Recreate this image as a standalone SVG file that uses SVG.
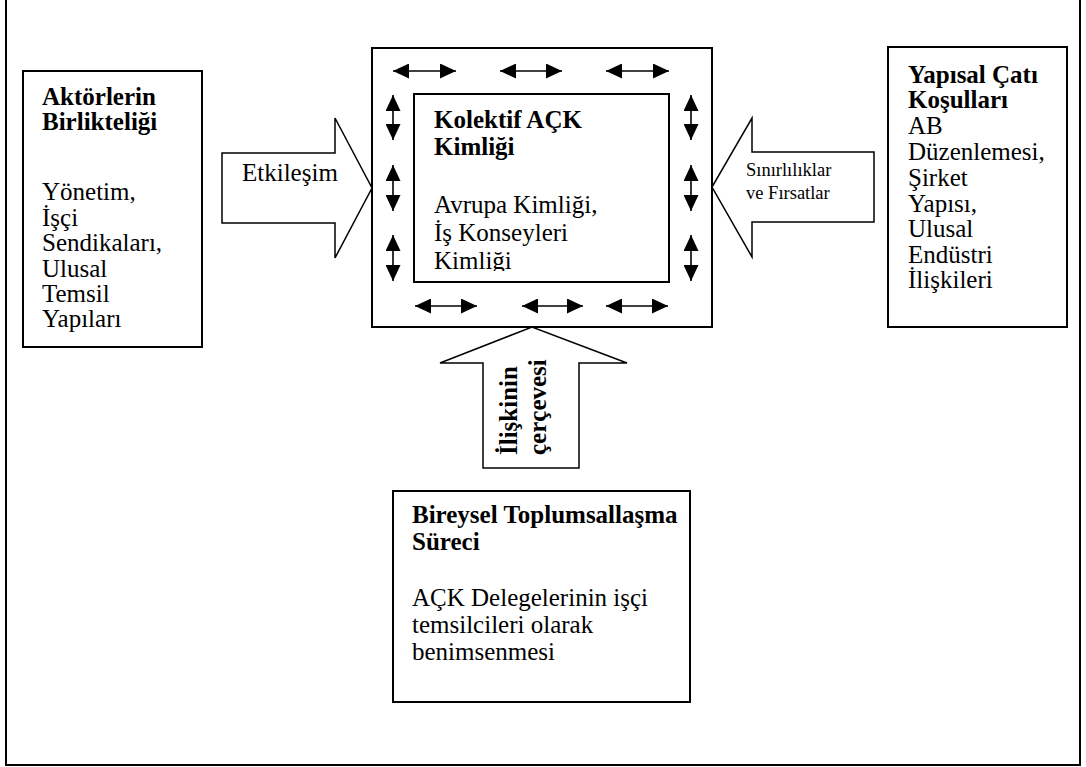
<svg xmlns="http://www.w3.org/2000/svg" width="1086" height="767" viewBox="0 0 1086 767">
  <style>
    .box { fill: #fff; stroke: #000; stroke-width: 2; }
    .blk { fill: #fff; stroke: #000; stroke-width: 1.5; stroke-linejoin: miter; }
    .t { font-family: "Liberation Serif", "Times New Roman", serif; font-size: 25px; fill: #000; }
    .b { font-weight: bold; }
    .s { font-size: 18.5px; }
    .dbl { stroke: #000; stroke-width: 1.6; marker-start: url(#ah); marker-end: url(#ah); }
  </style>
  <defs>
    <marker id="ah" viewBox="0 0 16 15" refX="16" refY="7.5" markerWidth="16" markerHeight="15" markerUnits="userSpaceOnUse" orient="auto-start-reverse">
      <path d="M0,0 L16,7.5 L0,15 Z" fill="#000"/>
    </marker>
    <clipPath id="innerClip"><rect x="414" y="94" width="255" height="177"/></clipPath>
  </defs>
  <rect width="1086" height="767" fill="#fff"/>
  <path d="M6,0 V765 H1080 V0" fill="none" stroke="#000" stroke-width="2"/>

  <g id="node-aktorler">
    <rect class="box" x="23" y="71" width="179" height="276"/>
    <text class="t b" x="42" y="105">Aktörlerin</text>
    <text class="t b" x="42" y="130">Birlikteliği</text>
    <text class="t" x="42" y="200">Yönetim,</text>
    <text class="t" x="42" y="225.5">İşçi</text>
    <text class="t" x="42" y="251">Sendikaları,</text>
    <text class="t" x="42" y="276.5">Ulusal</text>
    <text class="t" x="42" y="302">Temsil</text>
    <text class="t" x="42" y="327">Yapıları</text>
  </g>

  <g id="node-outer">
    <rect class="box" x="372" y="48" width="340" height="279"/>
  </g>

  <g id="node-kolektif">
    <rect class="box" x="414" y="94" width="255" height="188"/>
    <g clip-path="url(#innerClip)">
      <text class="t b" x="434" y="128">Kolektif AÇK</text>
      <text class="t b" x="434" y="155">Kimliği</text>
      <text class="t" x="434" y="213">Avrupa Kimliği,</text>
      <text class="t" x="434" y="241">İş Konseyleri</text>
      <text class="t" x="434" y="269">Kimliği</text>
    </g>
  </g>

  <g id="node-yapisal">
    <rect class="box" x="888" y="47" width="179" height="280"/>
    <text class="t b" x="908" y="83">Yapısal Çatı</text>
    <text class="t b" x="908" y="108">Koşulları</text>
    <text class="t" x="908" y="134">AB</text>
    <text class="t" x="908" y="160">Düzenlemesi,</text>
    <text class="t" x="908" y="186">Şirket</text>
    <text class="t" x="908" y="212">Yapısı,</text>
    <text class="t" x="908" y="237">Ulusal</text>
    <text class="t" x="908" y="263">Endüstri</text>
    <text class="t" x="908" y="288">İlişkileri</text>
  </g>

  <g id="node-bireysel">
    <rect class="box" x="393" y="491" width="297" height="211"/>
    <text class="t b" x="412" y="523">Bireysel Toplumsallaşma</text>
    <text class="t b" x="412" y="550">Süreci</text>
    <text class="t" x="412" y="606">AÇK Delegelerinin işçi</text>
    <text class="t" x="412" y="633">temsilcileri olarak</text>
    <text class="t" x="412" y="660">benimsenmesi</text>
  </g>

  <g id="connectors">
    <path class="blk" d="M222,153 H335 V118 L372,188 L335,258 V223 H222 Z"/>
    <text class="t" x="242" y="181">Etkileşim</text>

    <path class="blk" d="M874,152 H752 V118 L712,187 L752,257 V222 H874 Z"/>
    <text class="t s" x="746" y="176">Sınırlılıklar</text>
    <text class="t s" x="746" y="199">ve Fırsatlar</text>

    <path class="blk" d="M483,468 V363 H440 L532,327 L627,363 H579 V468 Z"/>
    <text class="t b" transform="translate(517,455) rotate(-90)">İlişkinin</text>
    <text class="t b" transform="translate(546,455) rotate(-90)">çerçevesi</text>

    <line class="dbl" x1="393" y1="71" x2="456" y2="71"/>
    <line class="dbl" x1="500" y1="71" x2="562" y2="71"/>
    <line class="dbl" x1="606" y1="71" x2="669" y2="71"/>
    <line class="dbl" x1="415" y1="306" x2="477" y2="306"/>
    <line class="dbl" x1="522" y1="306" x2="583" y2="306"/>
    <line class="dbl" x1="606" y1="306" x2="668" y2="306"/>
    <line class="dbl" x1="393" y1="95" x2="393" y2="140"/>
    <line class="dbl" x1="393" y1="165" x2="393" y2="211"/>
    <line class="dbl" x1="393" y1="235" x2="393" y2="281"/>
    <line class="dbl" x1="691" y1="95" x2="691" y2="140"/>
    <line class="dbl" x1="691" y1="165" x2="691" y2="211"/>
    <line class="dbl" x1="691" y1="235" x2="691" y2="281"/>
  </g>
</svg>
